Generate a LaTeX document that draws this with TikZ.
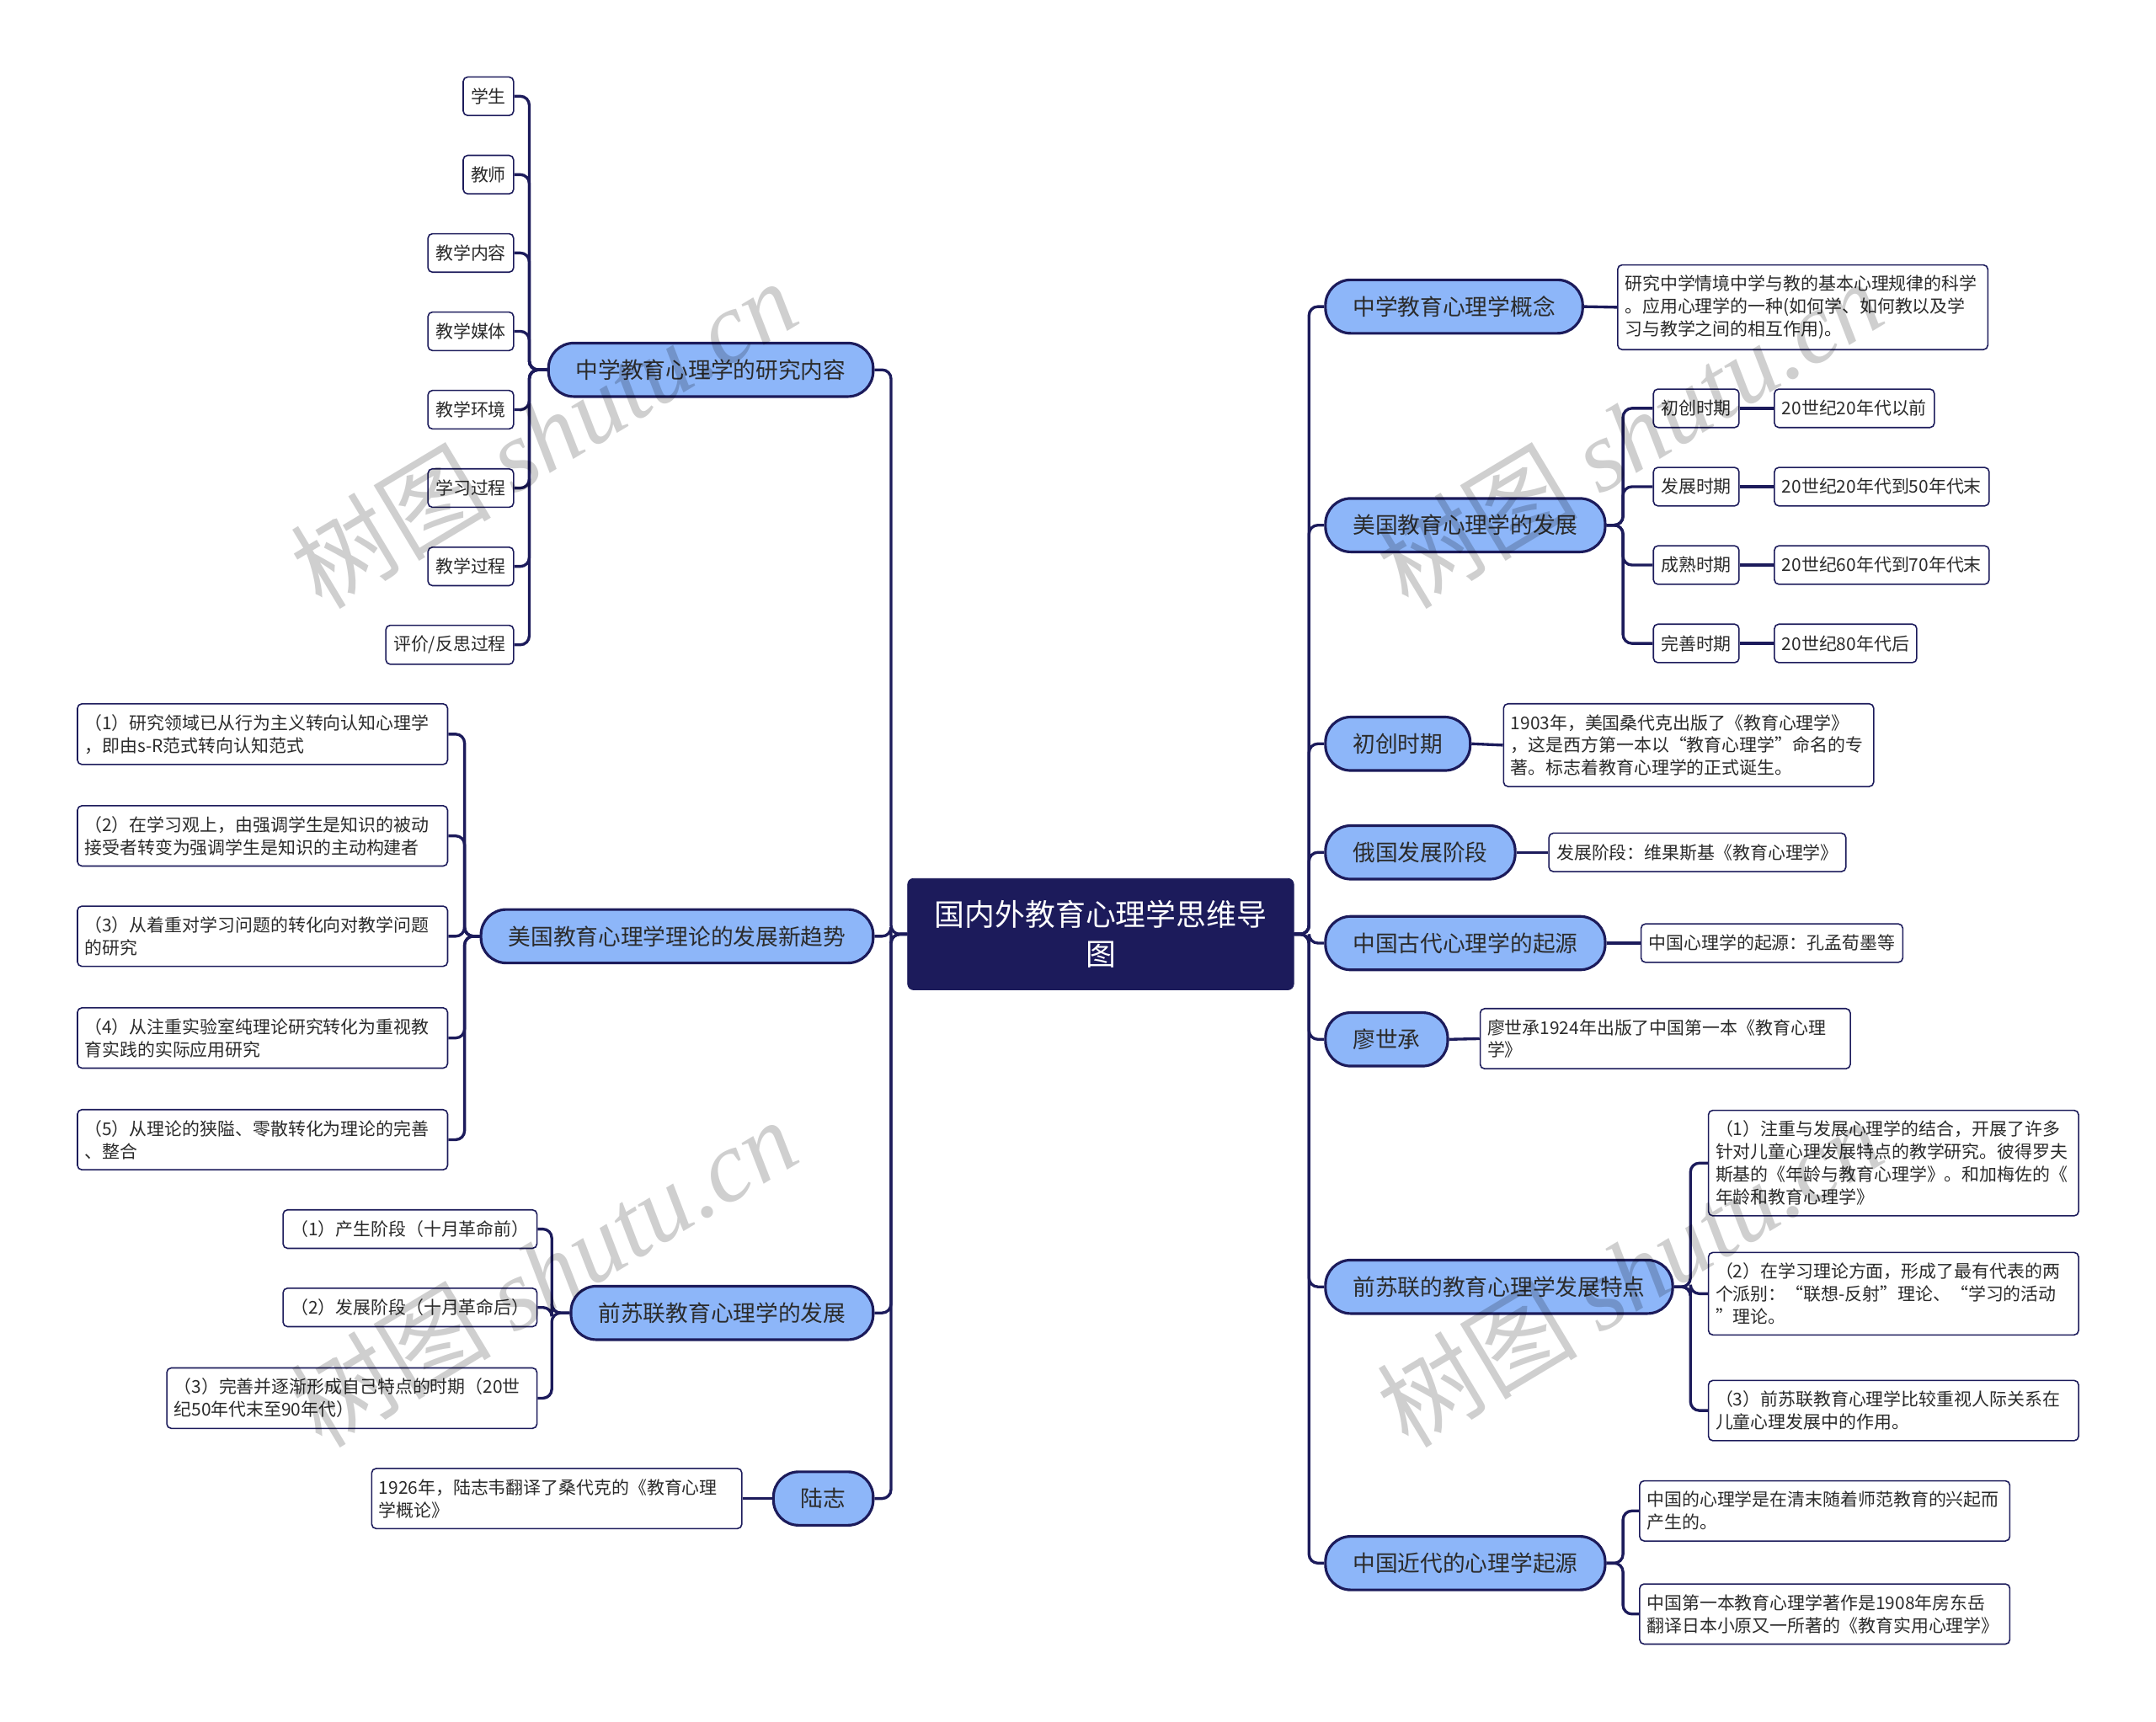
\documentclass[tikz,border=0pt]{standalone}
\usepackage{fontspec}
\setmainfont{Noto Sans CJK SC}
\newfontfamily\markfont{Liberation Serif}
\definecolor{inkblue}{HTML}{1C1B5B}
\definecolor{skyfill}{HTML}{8DB6F9}
\definecolor{bodytext}{HTML}{2B2B2B}
\usetikzlibrary{positioning,calc}

\begin{document}
\begin{tikzpicture}[x=0.03265cm,y=-0.03265cm,
  rootbox/.style={fill=inkblue,draw=inkblue,rounded corners=4pt,text=white,align=center,
    minimum width=9.17cm,minimum height=2.645cm,font=\fontsize{20.4}{27}\selectfont},
  topic/.style={fill=skyfill,draw=inkblue,line width=1.8pt,rounded corners=0.6cm,
    minimum height=1.27cm,inner xsep=0.65cm,inner ysep=0pt,text=bodytext,
    font=\fontsize{15.2}{18}\selectfont},
  leaf/.style={fill=white,draw=inkblue,line width=0.9pt,rounded corners=3pt,
    inner xsep=0.18cm,inner ysep=0.25cm,minimum height=0.914cm,align=left,text=bodytext,
    font=\fontsize{11.9}{15.3}\selectfont},
  wideleaf/.style={leaf,text width=8.45cm,inner xsep=0.17cm},
  link/.style={draw=inkblue,line width=1.9pt,rounded corners=6pt},
  wmark/.style={text=black,text opacity=0.19,rotate=31,font=\fontsize{68}{68}\selectfont}]
  \useasboundingbox (0,0) rectangle (1568,1252);

  % centre
  \node[rootbox] (root) at (800.5,679.5) {国内外教育心理学思维导\\图};
  \coordinate (rtrunk) at (952,679.5);
  \coordinate (ltrunk) at (648,679.5);

  % right branches
  \node[topic,anchor=west] (r1) at (963,223) {中学教育心理学概念};
  \node[topic,anchor=west] (r2) at (963,382) {美国教育心理学的发展};
  \node[topic,anchor=west] (r3) at (963,541) {初创时期};
  \node[topic,anchor=west] (r4) at (963,620) {俄国发展阶段};
  \node[topic,anchor=west] (r5) at (963,686) {中国古代心理学的起源};
  \node[topic,anchor=west] (r6) at (963,756) {廖世承};
  \node[topic,anchor=west] (r7) at (963,936) {前苏联的教育心理学发展特点};
  \node[topic,anchor=west] (r8) at (963,1137) {中国近代的心理学起源};
  \foreach \i in {1,...,8}
    \draw[link] (root.east) -- (rtrunk) |- (r\i.west);

  \node[wideleaf,anchor=west] (r1x) at (1176,223.5) {研究中学情境中学与教的基本心理规律的科学\\。应用心理学的一种(如何学、如何教以及学\\习与教学之间的相互作用)。};
  \draw[link] (r1.east) -- (r1x.west);

  \foreach \p/\d [count=\i] in {初创时期/20世纪20年代以前,发展时期/20世纪20年代到50年代末,
      成熟时期/20世纪60年代到70年代末,完善时期/20世纪80年代后} {
    \node[leaf,anchor=west] (r2\i) at (1202,240+57*\i) {\p};
    \node[leaf,anchor=west] (r2\i x) at (1290,240+57*\i) {\d};
    \draw[link] (r2.east) -- ++(12,0) |- (r2\i.west);
    \draw[link] (r2\i.east) -- (r2\i x.west);
  }

  \node[wideleaf,anchor=west] (r3x) at (1093,542) {1903年，美国桑代克出版了《教育心理学》\\，这是西方第一本以“教育心理学”命名的专\\著。标志着教育心理学的正式诞生。};
  \node[leaf,anchor=west] (r4x) at (1126,620) {发展阶段：维果斯基《教育心理学》};
  \node[leaf,anchor=west] (r5x) at (1193,686) {中国心理学的起源：孔孟荀墨等};
  \node[wideleaf,anchor=west] (r6x) at (1076,755.5) {廖世承1924年出版了中国第一本《教育心理\\学》};
  \foreach \i in {3,4,5,6}
    \draw[link] (r\i.east) -- (r\i x.west);

  \node[wideleaf,anchor=west] (r71) at (1242,846) {（1）注重与发展心理学的结合，开展了许多\\针对儿童心理发展特点的教学研究。彼得罗夫\\斯基的《年龄与教育心理学》。和加梅佐的《\\年龄和教育心理学》};
  \node[wideleaf,anchor=west] (r72) at (1242,941) {（2）在学习理论方面，形成了最有代表的两\\个派别：“联想-反射”理论、“学习的活动\\”理论。};
  \node[wideleaf,anchor=west] (r73) at (1242,1026) {（3）前苏联教育心理学比较重视人际关系在\\儿童心理发展中的作用。};
  \foreach \i in {1,2,3}
    \draw[link] (r7.east) -- ++(12,0) |- (r7\i.west);

  \node[wideleaf,anchor=west] (r81) at (1192,1099) {中国的心理学是在清末随着师范教育的兴起而\\产生的。};
  \node[wideleaf,anchor=west] (r82) at (1192,1174) {中国第一本教育心理学著作是1908年房东岳\\翻译日本小原又一所著的《教育实用心理学》};
  \foreach \i in {1,2}
    \draw[link] (r8.east) -- ++(12,0) |- (r8\i.west);

  % left branches
  \node[topic,anchor=east] (l1) at (636,269) {中学教育心理学的研究内容};
  \node[topic,anchor=east] (l2) at (636,681) {美国教育心理学理论的发展新趋势};
  \node[topic,anchor=east] (l3) at (636,955) {前苏联教育心理学的发展};
  \node[topic,anchor=east] (l4) at (636,1090) {陆志};
  \foreach \i in {1,...,4}
    \draw[link] (root.west) -- (ltrunk) |- (l\i.east);

  \foreach \t [count=\i] in {学生,教师,教学内容,教学媒体,教学环境,学习过程,教学过程,评价/反思过程} {
    \node[leaf,anchor=east] (l1\i) at (374,13+57*\i) {\t};
    \draw[link] (l1.west) -- ++(-13,0) |- (l1\i.east);
  }

  \node[wideleaf,anchor=east] (l21) at (326,534) {（1）研究领域已从行为主义转向认知心理学\\，即由s-R范式转向认知范式};
  \node[wideleaf,anchor=east] (l22) at (326,608) {（2）在学习观上，由强调学生是知识的被动\\接受者转变为强调学生是知识的主动构建者};
  \node[wideleaf,anchor=east] (l23) at (326,681) {（3）从着重对学习问题的转化向对教学问题\\的研究};
  \node[wideleaf,anchor=east] (l24) at (326,755) {（4）从注重实验室纯理论研究转化为重视教\\育实践的实际应用研究};
  \node[wideleaf,anchor=east] (l25) at (326,829) {（5）从理论的狭隘、零散转化为理论的完善\\、整合};
  \foreach \i in {1,...,5}
    \draw[link] (l2.west) -- ++(-11,0) |- (l2\i.east);

  \node[leaf,anchor=east] (l31) at (391,894) {（1）产生阶段（十月革命前）};
  \node[leaf,anchor=east] (l32) at (391,951) {（2）发展阶段（十月革命后）};
  \node[wideleaf,anchor=east] (l33) at (391,1017) {（3）完善并逐渐形成自己特点的时期（20世\\纪50年代末至90年代）};
  \foreach \i in {1,2,3}
    \draw[link] (l3.west) -- ++(-13,0) |- (l3\i.east);

  \node[wideleaf,anchor=east] (l41) at (540,1090) {1926年，陆志韦翻译了桑代克的《教育心理\\学概论》};
  \draw[link] (l4.west) -- (l41.east);

  % watermarks
  \foreach \wx/\wy in {395/315,395/925,1185/315,1185/925}
    \node[wmark] at (\wx,\wy) {树图 {\markfont\itshape shutu.cn}};
\end{tikzpicture}
\end{document}
